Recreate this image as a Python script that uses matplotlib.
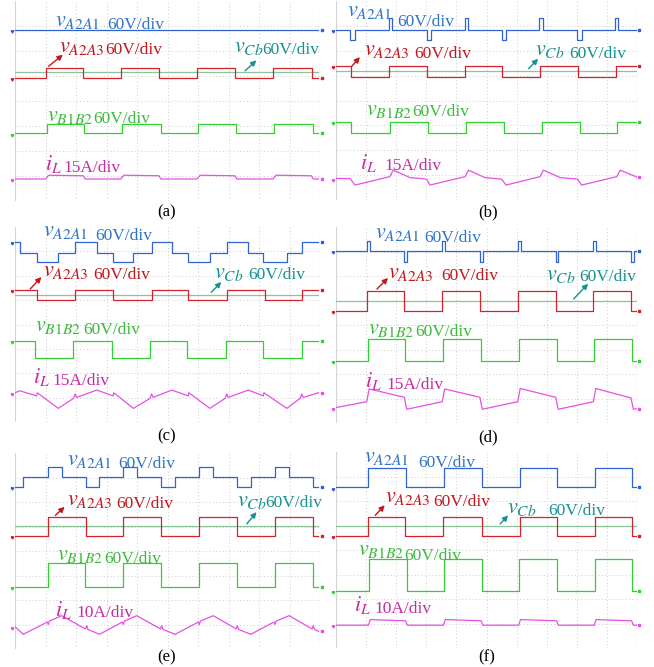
import matplotlib
matplotlib.use('Agg')
import matplotlib.pyplot as plt
from matplotlib.patches import FancyArrowPatch

plt.rcParams['font.family'] = ['Liberation Serif', 'DejaVu Serif']
plt.rcParams['mathtext.fontset'] = 'stix'

W, H = 654, 667

# ---------------- data (time in divisions, level in divisions) ----------------
# panel (a)
a_blue_t = [0, 9.95]
a_blue_v = [6.84, 6.84]
a_red_t = [0, 1.01, 2.24, 3.48, 4.73, 5.98, 7.22, 8.47, 9.73, 9.95]
a_red_v = [4.93, 5.33, 4.93, 5.33, 4.93, 5.33, 4.93, 5.33, 4.93, 4.93]
a_cb_t = [0, 9.95]
a_cb_v = [5.15, 5.15]
a_green_t = [0, 1.04, 2.27, 3.51, 4.78, 6.01, 7.25, 8.50, 9.76, 9.95]
a_green_v = [2.71, 3.08, 2.71, 3.08, 2.71, 3.08, 2.71, 3.08, 2.71, 2.71]
a_il_t = [0, 1.00, 1.10, 2.24, 2.30, 3.47, 3.57, 4.72, 4.78, 5.97, 6.07, 7.21, 7.27, 8.46, 8.56, 9.72, 9.78, 9.95]
a_il_v = [0.88, 0.88, 1.03, 1.01, 0.88, 0.88, 1.03, 1.01, 0.88, 0.88, 1.03, 1.01, 0.88, 0.88, 1.03, 1.01, 0.88, 0.88]

# panel (b)
b_blue_t = [0, 0.48, 0.64, 1.75, 1.86, 3.02, 3.16, 4.27, 4.38, 5.51, 5.65, 6.76, 6.87, 8.02, 8.16, 9.27, 9.38, 10.0]
b_blue_v = [6.85, 6.45, 6.85, 7.33, 6.85, 6.45, 6.85, 7.33, 6.85, 6.45, 6.85, 7.33, 6.85, 6.45, 6.85, 7.33, 6.85, 6.85]
b_red_t = [0, 0.50, 1.77, 3.03, 4.27, 5.53, 6.78, 8.05, 9.30, 10.0]
b_red_v = [5.38, 4.95, 5.38, 4.95, 5.38, 4.95, 5.38, 4.95, 5.38, 5.38]
b_cb_t = [0, 10.0]
b_cb_v = [5.19, 5.19]
b_green_t = [0, 0.51, 1.80, 3.04, 4.31, 5.58, 6.84, 8.09, 9.35, 10.0]
b_green_v = [3.14, 2.68, 3.14, 2.68, 3.14, 2.68, 3.14, 2.68, 3.14, 3.14]
b_il_t = [0, 0.47, 0.63, 1.79, 1.90, 2.46, 3.01, 3.12, 4.29, 4.40, 4.95, 5.50, 5.65, 6.78, 6.89, 7.45, 8.02, 8.16, 9.33, 9.44, 10.0]
b_il_v = [0.87, 0.86, 0.60, 0.94, 1.20, 0.90, 0.84, 0.60, 0.94, 1.20, 0.90, 0.84, 0.60, 0.94, 1.20, 0.90, 0.84, 0.60, 0.94, 1.20, 0.92]

# panel (c)
c_blue_t = [0, 0.16, 0.71, 1.42, 1.97, 2.68, 3.22, 3.88, 4.48, 5.14, 5.68, 6.39, 6.94, 7.65, 8.14, 8.91, 9.40, 9.95]
c_blue_v = [7.39, 6.95, 6.57, 6.95, 7.39, 6.95, 6.57, 6.95, 7.39, 6.95, 6.57, 6.95, 7.39, 6.95, 6.57, 6.95, 7.39, 7.39]
c_red_t = [0, 0.71, 1.97, 3.22, 4.48, 5.68, 6.94, 8.19, 9.40, 9.95]
c_red_v = [5.41, 5.00, 5.41, 5.00, 5.41, 5.00, 5.41, 5.00, 5.41, 5.41]
c_cb_t = [0, 9.95]
c_cb_v = [5.23, 5.23]
c_green_t = [0, 0.65, 1.90, 3.17, 4.43, 5.65, 6.91, 8.14, 9.40, 9.95]
c_green_v = [3.32, 2.64, 3.32, 2.64, 3.32, 2.64, 3.32, 2.64, 3.32, 3.32]
c_il_t = [0, 0.16, 0.71, 0.73, 1.42, 1.92, 1.97, 2.02, 2.68, 3.22, 3.24, 3.88, 4.43, 4.48, 4.53,
          5.14, 5.68, 5.70, 6.39, 6.89, 6.94, 6.99, 7.65, 8.14, 8.16, 8.91, 9.35, 9.40, 9.45, 9.95]
c_il_v = [1.20, 1.28, 1.07, 1.20, 0.56, 0.97, 1.15, 1.01, 1.31, 1.07, 1.20, 0.56, 0.97, 1.15, 1.01,
          1.31, 1.07, 1.20, 0.56, 0.97, 1.15, 1.01, 1.31, 1.07, 1.20, 0.56, 0.97, 1.15, 1.01, 1.20]

# panel (d)
d_blue_t = [0, 1.02, 1.13, 2.26, 2.37, 3.53, 3.62, 4.78, 4.89, 6.04, 6.13, 7.30, 7.39, 8.53, 8.63, 9.80, 9.91, 9.99]
d_blue_v = [7.02, 7.43, 7.02, 6.58, 7.02, 7.43, 7.02, 6.58, 7.02, 7.43, 7.02, 6.58, 7.02, 7.43, 7.02, 6.58, 7.02, 7.02]
d_red_t = [0, 1.02, 2.27, 3.53, 4.78, 6.04, 7.30, 8.55, 9.80, 9.99]
d_red_v = [4.57, 5.39, 4.57, 5.39, 4.57, 5.39, 4.57, 5.39, 4.57, 4.57]
d_cb_t = [0, 9.99]
d_cb_v = [4.99, 4.99]
d_green_t = [0, 1.05, 2.29, 3.57, 4.82, 6.08, 7.33, 8.58, 9.82, 9.99]
d_green_v = [2.53, 3.43, 2.53, 3.43, 2.53, 3.43, 2.53, 3.43, 2.53, 2.53]
d_il_t = [0, 1.02, 1.10, 2.27, 2.35, 3.53, 3.61, 4.78, 4.86, 6.04, 6.12, 7.30, 7.38, 8.55, 8.63, 9.80, 9.88, 9.98]
d_il_v = [0.63, 0.87, 1.39, 1.05, 0.56, 0.87, 1.39, 1.05, 0.56, 0.87, 1.41, 1.05, 0.56, 0.87, 1.41, 1.02, 0.56, 0.58]

# panel (e)
e_blue_t = [0, 0.27, 1.09, 1.53, 2.33, 2.77, 3.55, 3.99, 4.79, 5.25, 6.04, 6.50, 7.27, 7.73, 8.52, 8.99, 9.76, 9.95]
e_blue_v = [6.62, 7.03, 7.42, 7.03, 6.62, 7.03, 7.42, 7.03, 6.62, 7.03, 7.42, 7.03, 6.62, 7.03, 7.42, 7.03, 6.62, 6.62]
e_red_t = [0, 1.09, 2.33, 3.55, 4.79, 6.04, 7.27, 8.52, 9.76, 9.95]
e_red_v = [4.63, 5.40, 4.63, 5.40, 4.63, 5.40, 4.63, 5.40, 4.63, 4.63]
e_cb_t = [0, 9.95]
e_cb_v = [5.02, 5.02]
e_green_t = [0, 1.07, 2.30, 3.54, 4.78, 6.03, 7.27, 8.51, 9.76, 9.95]
e_green_v = [2.52, 3.50, 2.52, 3.50, 2.52, 3.50, 2.52, 3.50, 2.52, 2.52]
e_il_t = [0, 0.27, 1.06, 1.09, 1.13, 1.53, 2.31, 2.35, 2.39, 2.77, 3.52, 3.55, 3.59, 3.99, 4.77, 4.81, 4.85,
          5.25, 6.01, 6.04, 6.08, 6.50, 7.25, 7.29, 7.33, 7.73, 8.49, 8.52, 8.56, 8.99, 9.74, 9.78, 9.82, 9.95]
e_il_v = [0.91, 0.60, 1.10, 1.00, 1.14, 1.36, 0.82, 0.95, 0.80, 0.60, 1.10, 1.00, 1.14, 1.36, 0.82, 0.95, 0.80,
          0.60, 1.10, 1.00, 1.14, 1.36, 0.82, 0.95, 0.80, 0.60, 1.10, 1.00, 1.14, 1.36, 0.82, 0.95, 0.80, 0.72]

# panel (f)
f_blue_t = [0, 1.05, 2.33, 3.59, 4.86, 6.11, 7.35, 8.60, 9.84, 9.99]
f_blue_v = [6.56, 7.33, 6.56, 7.33, 6.56, 7.33, 6.56, 7.33, 6.56, 6.56]
f_red_t = [0, 1.07, 2.29, 3.56, 4.84, 6.11, 7.35, 8.60, 9.82, 9.99]
f_red_v = [4.58, 5.36, 4.58, 5.36, 4.58, 5.36, 4.58, 5.36, 4.58, 4.58]
f_cb_t = [0, 9.99]
f_cb_v = [5.00, 5.00]
f_green_t = [0, 1.10, 2.35, 3.59, 4.84, 6.09, 7.35, 8.60, 9.84, 9.99]
f_green_v = [2.34, 3.63, 2.34, 3.63, 2.34, 3.63, 2.34, 3.63, 2.34, 2.34]
f_il_t = [0, 1.08, 1.14, 2.31, 2.37, 3.57, 3.63, 4.82, 4.88, 6.07, 6.13, 7.33, 7.39, 8.58, 8.64, 9.82, 9.88, 9.99]
f_il_v = [0.93, 0.93, 1.16, 1.11, 0.93, 0.93, 1.16, 1.11, 0.93, 0.93, 1.16, 1.11, 0.93, 0.93, 1.16, 1.11, 0.93, 0.93]

captions = ['(a)', '(b)', '(c)', '(d)', '(e)', '(f)']
lbl_blue = r'$v_{\mathit{A2A1}}$'
lbl_red = r'$v_{\mathit{A2A3}}$'
lbl_cb = r'$v_{\mathit{Cb}}$'
lbl_green = r'$v_{\mathit{B1B2}}$'
lbl_il = r'$i_{L}$'
unit_v = '60V/div'
units_i = ['15A/div', '15A/div', '15A/div', '15A/div', '10A/div', '10A/div']

# ---------------- styling ----------------
BLUE_TR, BLUE_TX = '#2f62d6', '#2f74c6'
RED_TR, RED_TX = '#d4232b', '#c3171d'
CB_TR, TEAL_TX = '#8cc59a', '#17918f'
GREEN_TR, GREEN_TX = '#30d030', '#3cba3c'
MAG_TR, MAG_TX = '#e650e6', '#c52ca2'
GRID = '#cdcdcd'

fig = plt.figure(figsize=(W / 100, H / 100), dpi=100)
fig.patch.set_facecolor('white')

# pixel boxes: left, top, right, bottom
boxes = [(15, 1, 320, 201), (336, 1, 637, 200),
         (15, 227, 320, 422), (336, 227, 637, 423),
         (15, 453, 320, 649), (336, 452, 637, 648)]
cap_pos = [(167, 212), (488, 212), (167, 436), (488, 437), (167, 657), (487, 657)]

series = [
    (a_blue_t, a_blue_v, a_red_t, a_red_v, a_cb_t, a_cb_v, a_green_t, a_green_v, a_il_t, a_il_v),
    (b_blue_t, b_blue_v, b_red_t, b_red_v, b_cb_t, b_cb_v, b_green_t, b_green_v, b_il_t, b_il_v),
    (c_blue_t, c_blue_v, c_red_t, c_red_v, c_cb_t, c_cb_v, c_green_t, c_green_v, c_il_t, c_il_v),
    (d_blue_t, d_blue_v, d_red_t, d_red_v, d_cb_t, d_cb_v, d_green_t, d_green_v, d_il_t, d_il_v),
    (e_blue_t, e_blue_v, e_red_t, e_red_v, e_cb_t, e_cb_v, e_green_t, e_green_v, e_il_t, e_il_v),
    (f_blue_t, f_blue_v, f_red_t, f_red_v, f_cb_t, f_cb_v, f_green_t, f_green_v, f_il_t, f_il_v),
]

# label positions (pixel x-left, baseline y): math part / unit part per channel
lab_pos = [
    {'blue': ((55, 26), (107, 29)), 'red': ((59, 52), (105, 54)), 'cb': ((234, 52), (262, 54)),
     'green': ((47, 121), (93, 123)), 'il': ((45, 170), (63, 172)),
     'ared': ((46.5, 68), (65, 53)), 'acb': ((243, 72.7), (258.5, 58.5))},
    {'blue': ((346.7, 16), (397, 26)), 'red': ((364, 55), (414, 58)), 'cb': ((535, 55), (569, 58)),
     'green': ((365.7, 115), (412, 116)), 'il': ((360, 169), (384, 170)),
     'ared': ((350, 68.3), (361.7, 55)), 'acb': ((526.7, 70.7), (540, 56.7))},
    {'blue': ((43, 236), (95, 240)), 'red': ((43, 276), (93, 279)), 'cb': ((214, 278), (248, 279)),
     'green': ((35, 331), (83, 334)), 'il': ((33, 383), (52, 385)),
     'ared': ((28.3, 291), (43.3, 275)), 'acb': ((209.3, 294.3), (223.3, 280))},
    {'blue': ((375, 238), (424, 242)), 'red': ((388, 278), (441, 280)), 'cb': ((546, 280), (579, 281)),
     'green': ((368, 334), (415, 336)), 'il': ((365, 387), (386, 389)),
     'ared': ((375, 291), (390, 276)), 'acb': ((571.7, 301), (590, 281.7))},
    {'blue': ((67, 465), (118, 468)), 'red': ((67, 505), (116, 508)), 'cb': ((237, 506), (265, 507)),
     'green': ((57, 560), (104, 563)), 'il': ((55, 616), (76, 617)),
     'ared': ((53.3, 517.3), (66.7, 505)), 'acb': ((245, 526), (258.3, 510))},
    {'blue': ((364, 462), (418, 467)), 'red': ((385, 502), (433, 506)), 'cb': ((507, 513), (548, 515)),
     'green': ((358, 555), (404, 560)), 'il': ((354, 611), (374, 613)),
     'ared': ((373.3, 517.3), (386.7, 503.3)), 'acb': ((498.3, 526), (510, 513.3))},
]


def fx(x):
    return x / W


def fy(y):
    return 1 - y / H


MATH_FS = 16
UNIT_FS = 12.5

for i, (box, ser) in enumerate(zip(boxes, series)):
    l, t, r, b = box
    ax = fig.add_axes([fx(l), fy(b), (r - l) / W, (b - t) / H])
    ax.set_xlim(0, 10)
    ax.set_ylim(0, 8)
    ax.axis('off')
    # graticule
    for gx in range(1, 10):
        ax.axvline(gx, color=GRID, lw=0.7, ls=(0, (1, 2.5)), zorder=0)
    for gy in range(0, 8):
        ax.axhline(gy, color=GRID, lw=0.7, ls=(0, (1, 2.5)), zorder=0)
    ax.axvline(0, color='#d4d4d4', lw=0.8, zorder=0)
    ax.axvline(10, color='#d4d4d4', lw=0.8, zorder=0)

    bt, bv, rt, rv, ct, cv, gt, gv, it, iv = ser
    ax.plot(ct, cv, color=CB_TR, lw=0.9, zorder=2)
    ax.plot(bt, bv, drawstyle='steps-post', color=BLUE_TR, lw=0.9, zorder=3)
    ax.plot(rt, rv, drawstyle='steps-post', color=RED_TR, lw=0.9, zorder=3)
    ax.plot(gt, gv, drawstyle='steps-post', color=GREEN_TR, lw=0.9, zorder=3)
    ax.plot(it, iv, color=MAG_TR, lw=0.9, zorder=3)
    # ground markers / end dots
    for (tt, vv, col) in [(bt, bv, BLUE_TR), (rt, rv, RED_TR), (gt, gv, GREEN_TR), (it, iv, MAG_TR)]:
        ax.plot([-0.1], [vv[0] - 0.05], marker=(3, 0, 180), ms=2.2, color=col, clip_on=False)
        ax.plot([10.08], [vv[-1]], marker='s', ms=1.6, color=col, clip_on=False)

    lp = lab_pos[i]
    specs = [('blue', lbl_blue, unit_v, BLUE_TX), ('red', lbl_red, unit_v, RED_TX),
             ('cb', lbl_cb, unit_v, TEAL_TX), ('green', lbl_green, unit_v, GREEN_TX),
             ('il', lbl_il, units_i[i], MAG_TX)]
    for key, mtxt, utxt, col in specs:
        (mx, my), (ux, uy) = lp[key]
        fig.text(fx(mx), fy(my), mtxt, color=col, fontsize=MATH_FS, ha='left', va='baseline')
        fig.text(fx(ux), fy(uy), utxt, color=col, fontsize=UNIT_FS, ha='left', va='baseline')
    for key, col in [('ared', RED_TX), ('acb', TEAL_TX)]:
        (x0, y0), (x1, y1) = lp[key]
        arr = FancyArrowPatch((fx(x0), fy(y0)), (fx(x1), fy(y1)), transform=fig.transFigure,
                              arrowstyle='-|>', mutation_scale=8, color=col, lw=1.0)
        fig.add_artist(arr)

    cx, cy = cap_pos[i]
    fig.text(fx(cx), fy(cy), captions[i], fontsize=12, ha='center', va='center', color='black')

fig.savefig('out.png', dpi=100, facecolor='white')
